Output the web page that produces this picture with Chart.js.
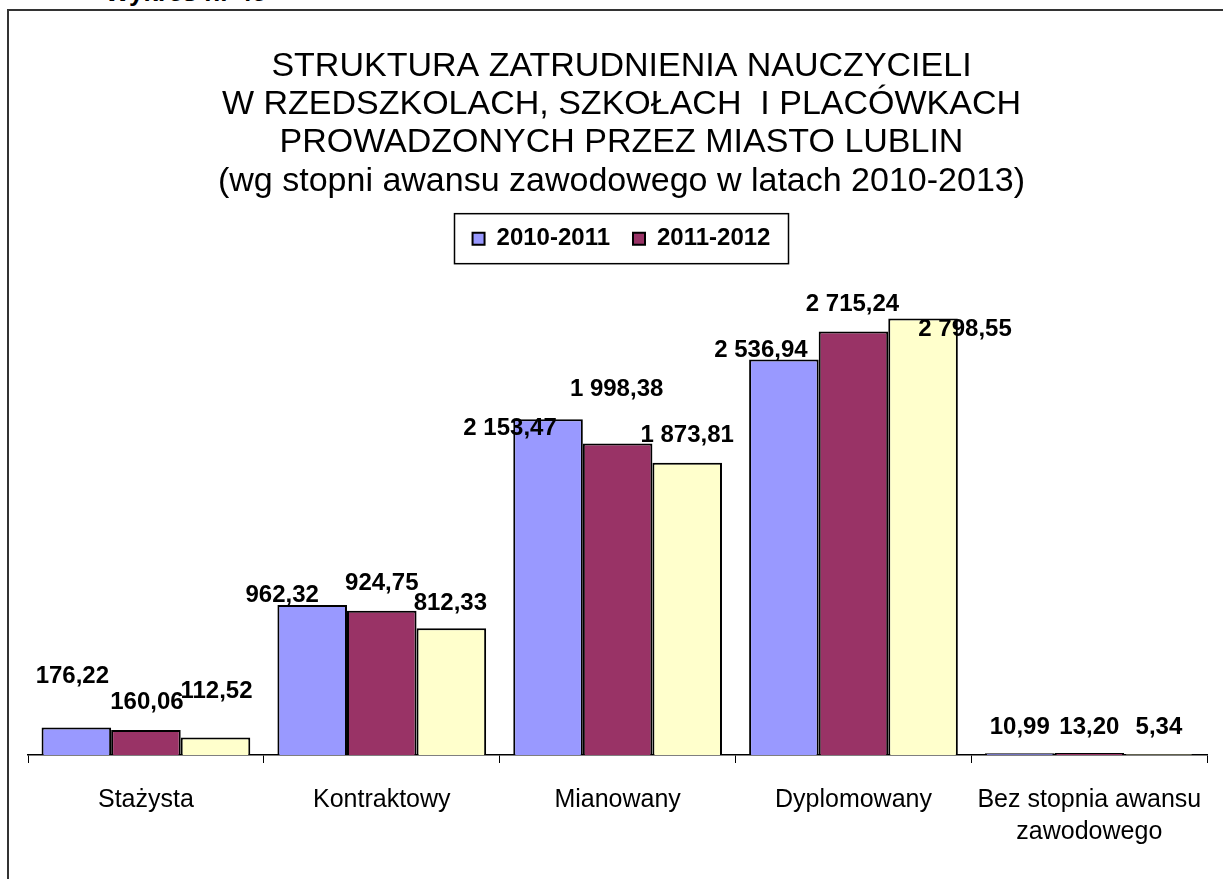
<!DOCTYPE html>
<html lang="pl">
<head>
<meta charset="utf-8">
<title>Struktura zatrudnienia nauczycieli</title>
<script src="https://cdn.jsdelivr.net/npm/chart.js@4/dist/chart.umd.min.js"></script>
<style>
    html, body { margin: 0; padding: 0; background: #fff; overflow: hidden; }
    #wrap { position: relative; width: 1223px; height: 879px; }
    #frame { position: absolute; left: 7px; top: 9px; right: -10px; bottom: -10px; border: 2px solid #333; }
    #caption { position: absolute; left: 105px; top: -21px; font: bold 26px "Liberation Sans", Arial, sans-serif; line-height: 26px; color: #000; }
    #chartBox { position: absolute; left: 0; top: 0; width: 1223px; height: 879px; }
</style>
</head>
<body>
<div id="wrap">
    <div id="caption">Wykres nr 45</div>
    <div id="frame"></div>
    <div id="chartBox"><canvas id="staffChart"></canvas></div>
</div>
<script>
// stopnie awansu zawodowego
var categories = [
    'Stażysta',
    'Kontraktowy',
    'Mianowany',
    'Dyplomowany',
    ['Bez stopnia awansu', 'zawodowego']
];
var seriesNames = ['2010-2011', '2011-2012', '2012-2013'];
var values2010 = [176.22, 962.32, 2153.47, 2536.94, 10.99];
var values2011 = [160.06, 924.75, 1998.38, 2715.24, 13.20];
var values2012 = [112.52, 812.33, 1873.81, 2798.55, 5.34];

// przesunięcie etykiet wartości względem wierzchołka słupka (px)
var labelShiftX = [
    [-4, -30, -38, -23, 0],
    [1, 0, -1, -1, 0],
    [1, -1, 0, 42, 0]
];
var labelShiftY = [
    [-51, -10, 9, -9, -26],
    [-28, -27, -54, -27, -26],
    [-46, -25, -27, 11, -27]
];

var FONT = '"Liberation Sans", Arial, sans-serif';

function formatPl(v) {
    var parts = v.toFixed(2).split('.');
    var whole = parts[0].replace(/\B(?=(\d{3})+(?!\d))/g, ' ');
    return whole + ',' + parts[1];
}

var valueLabels = {
    id: 'valueLabels',
    afterDatasetsDraw: function(chart) {
        var ctx = chart.ctx;
        ctx.save();
        ctx.font = 'bold 24px ' + FONT;
        ctx.fillStyle = '#000';
        ctx.textAlign = 'center';
        ctx.textBaseline = 'middle';
        chart.data.datasets.forEach(function(ds, d) {
            var meta = chart.getDatasetMeta(d);
            meta.data.forEach(function(bar, i) {
                ctx.fillText(formatPl(ds.data[i]), bar.x + labelShiftX[d][i], bar.y + labelShiftY[d][i]);
            });
        });
        ctx.restore();
    }
};

var legendFrame = {
    id: 'legendFrame',
    afterDraw: function(chart) {
        var boxes = chart.legend.legendHitBoxes;
        if (!boxes || !boxes.length) return;
        var first = boxes[0];
        var last = boxes[boxes.length - 1];
        var mid = (first.left + last.left + last.width) / 2;
        var ctx = chart.ctx;
        ctx.save();
        ctx.strokeStyle = '#000';
        ctx.lineWidth = 1.5;
        ctx.strokeRect(mid - 167, first.top - 13, 334, first.height + 26);
        ctx.restore();
    }
};

var ctx = document.getElementById('staffChart').getContext('2d');
var staffChart = new Chart(ctx, {
    type: 'bar',
    data: {
        labels: categories,
        datasets: [{
            label: seriesNames[0],
            data: values2010,
            backgroundColor: '#9999FF'
        }, {
            label: seriesNames[1],
            data: values2011,
            backgroundColor: '#993366'
        }, {
            label: seriesNames[2],
            data: values2012,
            backgroundColor: '#FFFFCC'
        }]
    },
    options: {
        responsive: true,
        maintainAspectRatio: false,
        animation: false,
        layout: {
            padding: { left: 28, right: 8, top: 0, bottom: 10 }
        },
        datasets: {
            bar: {
                borderColor: '#000',
                borderWidth: 2,
                categoryPercentage: 0.885,
                barPercentage: 1
            }
        },
        scales: {
            x: {
                offset: true,
                grid: {
                    offset: true,
                    drawOnChartArea: false,
                    drawTicks: true,
                    tickLength: 8,
                    color: '#000'
                },
                border: { display: true, color: '#000', width: 1.5 },
                ticks: {
                    color: '#000',
                    padding: 21,
                    maxRotation: 0,
                    autoSkip: false,
                    font: { family: FONT, size: 25, lineHeight: 1.28 }
                }
            },
            y: {
                display: false,
                min: 0,
                max: 3170
            }
        },
        plugins: {
            title: {
                display: true,
                text: [
                    'STRUKTURA ZATRUDNIENIA NAUCZYCIELI',
                    'W RZEDSZKOLACH, SZKOŁACH  I PLACÓWKACH',
                    'PROWADZONYCH PRZEZ MIASTO LUBLIN',
                    '(wg stopni awansu zawodowego w latach 2010-2013)'
                ],
                color: '#000',
                font: { family: FONT, size: 34, weight: 'normal', lineHeight: 1.13 },
                padding: { top: 47, bottom: 3 }
            },
            legend: {
                display: true,
                position: 'top',
                labels: {
                    color: '#000',
                    boxWidth: 12,
                    boxHeight: 12,
                    padding: 23,
                    font: { family: FONT, size: 24, weight: 'bold' },
                    filter: function(item) {
                        return item.datasetIndex < 2;
                    }
                }
            },
            tooltip: { enabled: false }
        }
    },
    plugins: [valueLabels, legendFrame]
});
</script>
</body>
</html>
